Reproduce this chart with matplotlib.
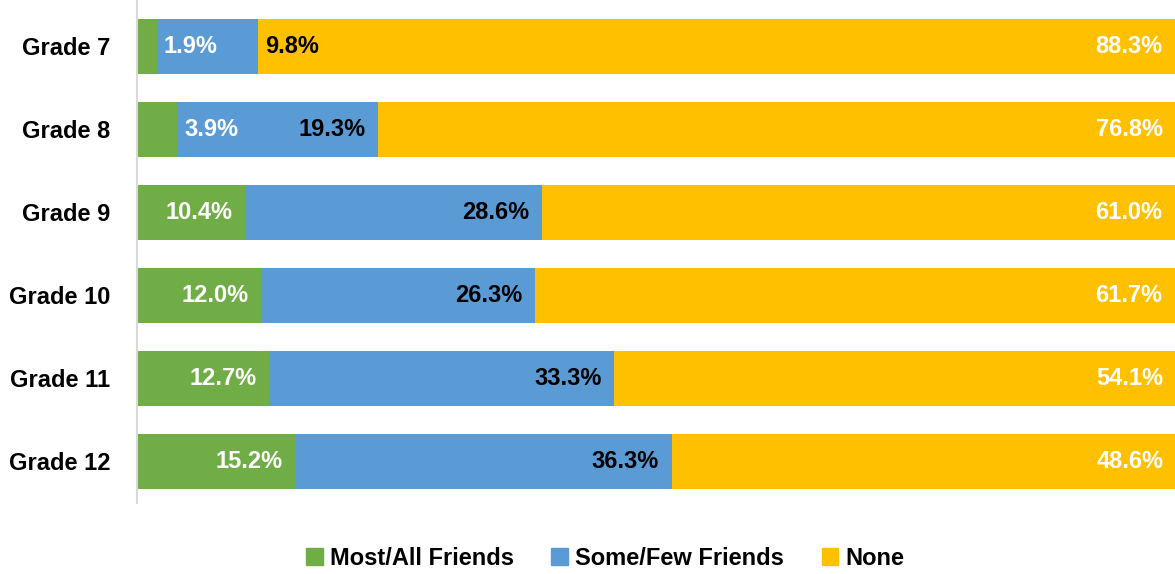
import matplotlib
matplotlib.use("Agg")
import matplotlib.pyplot as plt
import numpy as np
from matplotlib.patches import Patch

plt.rcParams['font.family'] = ['Liberation Sans', 'DejaVu Sans']
plt.rcParams['font.weight'] = 'bold'

grades = ['Grade 7', 'Grade 8', 'Grade 9', 'Grade 10', 'Grade 11', 'Grade 12']
most_all = [1.9, 3.9, 10.4, 12.0, 12.7, 15.2]
some_few = [9.8, 19.3, 28.6, 26.3, 33.3, 36.3]
none = [88.3, 76.8, 61.0, 61.7, 54.1, 48.6]

series = ['Most/All Friends', 'Some/Few Friends', 'None']
colors = ['#70ad47', '#5b9bd5', '#ffc000']
label_colors = ['white', 'black', 'white']

fig = plt.figure(figsize=(11.75, 5.74), dpi=100)
ax = fig.add_axes([0.1166, 0.1237, 0.8834, 0.8763])

y = np.arange(len(grades))
left = np.zeros(len(grades))
fs = 17
for vals, col, lcol in zip([most_all, some_few, none], colors, label_colors):
    vals = np.array(vals)
    ax.barh(y, vals, left=left, height=0.66, color=col)
    for i, v in enumerate(vals):
        end = left[i] + v
        txt = f'{v:.1f}%'
        # narrow segments: label sits just past the segment end
        if v < 10:
            ax.text(end + 0.65, y[i], txt, ha='left', va='center',
                    color=lcol, fontsize=fs, fontweight='bold')
        else:
            ax.text(end - 1.2, y[i], txt, ha='right', va='center',
                    color=lcol, fontsize=fs, fontweight='bold')
    left = left + vals

ax.set_xlim(0, 100)
ax.set_ylim(5.5, -0.56)
ax.set_yticks(y)
ax.set_yticklabels(grades, fontsize=fs, fontweight='bold')
ax.tick_params(axis='y', length=0, pad=19)
ax.set_xticks([])
for s in ['top', 'right', 'bottom']:
    ax.spines[s].set_visible(False)
ax.spines['left'].set_color('#d9d9d9')
ax.spines['left'].set_linewidth(1.5)

handles = [Patch(color=c, label=s) for c, s in zip(colors, series)]
fig.legend(handles=handles, loc='center', bbox_to_anchor=(0.515, 0.027),
           ncol=3, frameon=False, fontsize=fs, handlelength=0.7,
           handleheight=0.7, handletextpad=0.3, columnspacing=1.6)

fig.savefig('out.png', dpi=100)
